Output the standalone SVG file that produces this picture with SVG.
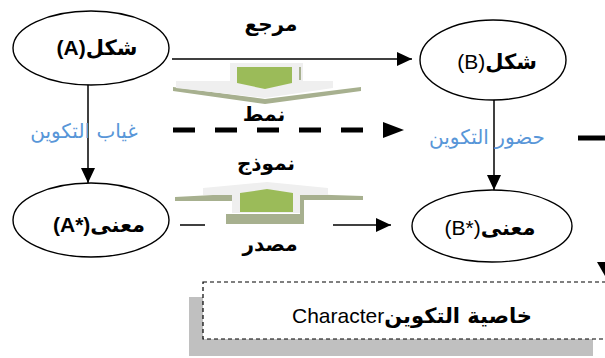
<svg xmlns="http://www.w3.org/2000/svg" width="605" height="358" viewBox="0 0 605 358">
  <style>
    .node { fill: #ffffff; stroke: #000000; stroke-width: 1.4; }
    .conn { stroke: #000000; stroke-width: 1.5; fill: none; }
    .thick { stroke: #000000; stroke-width: 5; fill: none; }
    .head { fill: #000000; }
    .lbl { font-family: "Liberation Sans", "DejaVu Sans", sans-serif; font-size: 21px; fill: #000000; }
    .bold { font-weight: bold; }
    .ar { font-family: "DejaVu Sans", "Liberation Sans", sans-serif; font-weight: bold; }
    .cap { font-family: "DejaVu Sans", "Liberation Sans", sans-serif; font-size: 20px; font-weight: bold; fill: #000000; }
    .blue { font-family: "DejaVu Sans", "Liberation Sans", sans-serif; font-size: 20px; fill: #5896d8; }
    .face { fill: #efefef; }
    .olive { fill: #a7b08f; }
    .green { fill: #9bbb59; }
  </style>
  <defs>
    <marker id="arrow" markerUnits="userSpaceOnUse" markerWidth="16" markerHeight="14" refX="15" refY="7" orient="auto">
      <path d="M0,0 L15,7 L0,14 Z" class="head"/>
    </marker>
  </defs>

  <rect width="605" height="358" fill="#ffffff"/>

  <!-- decorative block arrows -->
  <g id="block-down">
    <polygon class="olive" points="173,87 265,99 361,87 361,91 265,104 173,91"/>
    <polygon class="face" points="230,63 303,63 303,81 333,81 333,88 265,98 176,88 176,81 230,81"/>
    <line x1="300" y1="67" x2="300" y2="80" stroke="#a7b08f" stroke-width="2"/>
    <polygon class="green" points="237,67 292,67 292,83 265,89 237,83"/>
  </g>
  <g id="block-up">
    <polygon class="olive" points="175,197 232,194 232,201 175,201"/>
    <polygon class="olive" points="300,194 363,196 363,200 300,200"/>
    <rect class="olive" x="226" y="214" width="78" height="10"/>
    <rect class="olive" x="300" y="196" width="4" height="28"/>
    <polygon class="face" points="203,188 267,182 328,188 328,195 300,195 300,213 232,213 232,195 203,195"/>
    <polygon class="green" points="240,193 267,189 293,193 293,212 240,212"/>
  </g>

  <!-- connectors -->
  <g id="connectors">
    <line class="conn" x1="172" y1="59" x2="412" y2="59" marker-end="url(#arrow)"/>
    <line class="conn" x1="88" y1="72" x2="88" y2="183" marker-end="url(#arrow)"/>
    <line class="conn" x1="494" y1="89" x2="494" y2="190" marker-end="url(#arrow)"/>
    <line class="conn" x1="180" y1="225" x2="205" y2="225"/>
    <line class="conn" x1="333" y1="225" x2="391" y2="225" marker-end="url(#arrow)"/>
    <line class="thick" x1="173" y1="130" x2="363" y2="130" stroke-dasharray="22 20"/>
    <polygon class="head" points="383,122 404,130 383,138"/>
    <line class="thick" x1="578" y1="138" x2="610" y2="138"/>
    <polygon class="head" points="597,262 613,262 605,276"/>
  </g>

  <!-- nodes -->
  <g id="node-A">
    <ellipse class="node" cx="91" cy="48" rx="78" ry="37"/>
    <text class="lbl bold" x="97" y="55" text-anchor="middle">(A)<tspan class="ar">شكل</tspan></text>
  </g>
  <g id="node-B">
    <ellipse class="node" cx="493" cy="60" rx="73" ry="40"/>
    <text class="lbl" x="497" y="69" text-anchor="middle">(B)<tspan class="ar">شكل</tspan></text>
  </g>
  <g id="node-A-star">
    <ellipse class="node" cx="91" cy="220" rx="78" ry="37"/>
    <text class="lbl bold" x="99" y="232" text-anchor="middle">(A*)<tspan class="ar">معنى</tspan></text>
  </g>
  <g id="node-B-star">
    <ellipse class="node" cx="492" cy="226" rx="80" ry="36"/>
    <text class="lbl" x="490" y="235" text-anchor="middle">(B*)<tspan class="ar">معنى</tspan></text>
  </g>

  <!-- connector labels -->
  <g id="labels">
    <text class="cap" x="271" y="31" text-anchor="middle" direction="rtl">مرجع</text>
    <text class="cap" x="264" y="121" text-anchor="middle" direction="rtl">نمط</text>
    <text class="cap" x="266" y="170" text-anchor="middle" direction="rtl">نموذج</text>
    <text class="cap" x="270" y="251" text-anchor="middle" direction="rtl">مصدر</text>
    <text class="blue" x="84" y="138" text-anchor="middle" direction="rtl">غياب التكوين</text>
    <text class="blue" x="487" y="144" text-anchor="middle" direction="rtl">حضور التكوين</text>
  </g>

  <!-- property box -->
  <g id="character-box">
    <rect x="189" y="297" width="404" height="59" fill="#c0c0c0"/>
    <rect x="203" y="282" width="420" height="57" fill="#ffffff" stroke="#000000" stroke-width="1.2" stroke-dasharray="4 3"/>
    <text class="lbl" x="412" y="323" text-anchor="middle" font-size="23">Character<tspan class="ar">خاصية التكوين</tspan></text>
  </g>
</svg>
